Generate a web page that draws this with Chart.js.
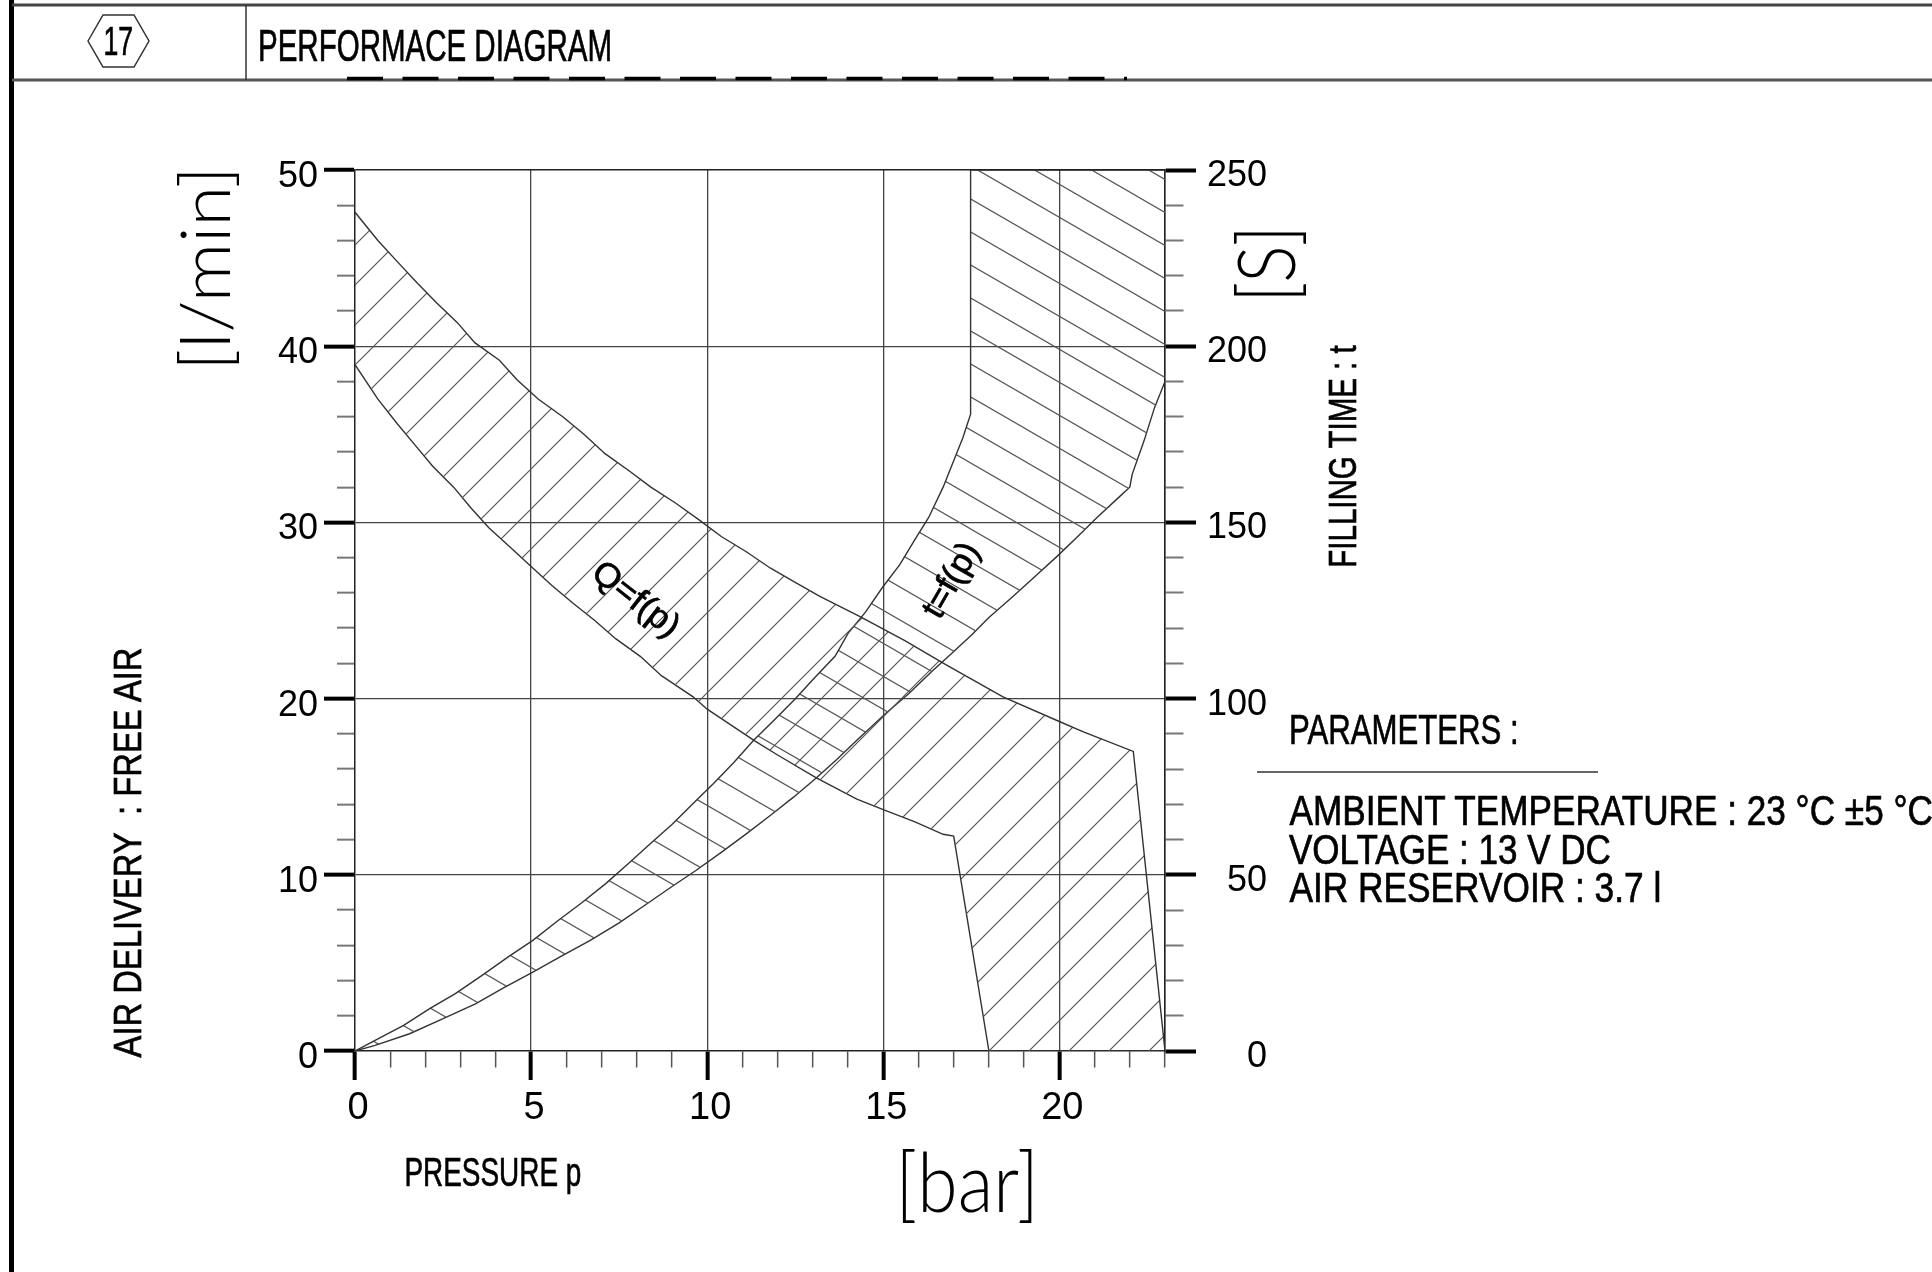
<!DOCTYPE html>
<html>
<head>
<meta charset="utf-8">
<title>Performace diagram</title>
<script src="https://cdn.jsdelivr.net/npm/chart.js@4/dist/chart.umd.min.js"></script>
<style>
html,body{margin:0;padding:0;background:#fff;}
#wrap{position:relative;width:1932px;height:1272px;overflow:hidden;background:#fff;}
#c{position:absolute;left:0;top:0;}
#frame{position:absolute;left:0;top:0;}
.t{position:absolute;white-space:pre;color:#000;line-height:1;transform-origin:50% 50%;}
.s{-webkit-text-stroke:0.7px #000;}
</style>
</head>
<body>
<div id="wrap">
<canvas id="c" width="1932" height="1272"></canvas>
<svg id="frame" width="1932" height="1272" xmlns="http://www.w3.org/2000/svg">
  <rect x="9" y="0" width="5" height="1272" fill="#000"/>
  <line x1="12" y1="5" x2="1932" y2="5" stroke="#444" stroke-width="3"/>
  <line x1="12" y1="80" x2="1932" y2="80" stroke="#555" stroke-width="3"/>
  <line x1="246" y1="5" x2="246" y2="80" stroke="#333" stroke-width="1.5"/>
  <polygon points="88,41 103,15 134,15 149,41 134,67 103,67" fill="none" stroke="#333" stroke-width="1.5"/>
  <line x1="347" y1="78.5" x2="1127" y2="78.5" stroke="#000" stroke-width="3.5" stroke-dasharray="36 19.5"/>
  <line x1="1257" y1="772" x2="1598" y2="772" stroke="#333" stroke-width="1.5"/>
</svg>
</div>
<script>
// ---------------- data ----------------
// Air delivery Q [l/min] vs pressure p [bar] : upper and lower limit of the band
const qUpperP = [0, 0.65, 1.2, 1.76, 2.3, 2.9, 3.4, 4.1, 4.6, 5.2, 5.9, 6.5, 7.1, 7.8, 8.4, 9.1, 9.8, 10.4, 11.1, 11.8, 12.5, 13.2, 14.3, 15.6, 16.8, 18.4, 20.0, 20.7, 22.1, 23];
const qUpperQ = [47.6, 46.0, 44.8, 43.6, 42.5, 41.35, 40.2, 39.2, 38.1, 37.0, 36.0, 35.0, 33.9, 32.9, 32.0, 31.1, 30.1, 29.2, 28.35, 27.4, 26.6, 25.8, 24.7, 23.3, 21.9, 20.1, 18.7, 18.1, 17.0, 0];
const qLowerP = [0, 0.65, 1.2, 1.7, 2.2, 2.8, 3.3, 3.8, 4.4, 5.0, 5.6, 6.2, 6.8, 7.4, 8.1, 8.7, 9.6, 10.0, 11.35, 12.0, 13.1, 14.25, 15.0, 15.9, 16.7, 17.0, 18.0, 23];
const qLowerQ = [38.95, 37.0, 35.6, 34.4, 33.2, 32.0, 30.8, 29.7, 28.6, 27.5, 26.4, 25.4, 24.45, 23.4, 22.4, 21.3, 20.1, 19.4, 17.6, 16.8, 15.5, 14.3, 13.7, 13.0, 12.3, 12.2, 0, 0];
// Filling time t [s] vs pressure p [bar] : upper and lower limit of the band
const tUpperP = [0, 0.57, 1.38, 2.12, 2.85, 3.66, 4.35, 5.05, 5.75, 6.43, 7.12, 7.74, 8.36, 9.0, 9.6, 10.18, 10.75, 11.32, 11.94, 12.49, 13.03, 13.63, 14.0, 14.5, 14.98, 15.47, 15.88, 16.29, 16.7, 17.0, 17.26, 17.48, 17.48, 23];
const tUpperT = [0, 3, 7.3, 12, 16.3, 21.8, 26.7, 31.4, 36.9, 42, 47.5, 53, 58.6, 64.3, 70.2, 75.9, 81.8, 88.2, 94.3, 99.8, 105.7, 112, 118.5, 124.6, 131.6, 138, 144.8, 151.4, 160, 167.5, 174, 180.7, 250, 250];
const tLowerP = [0, 0.57, 1.55, 2.44, 3.42, 4.23, 5.05, 5.86, 6.68, 7.49, 8.22, 8.96, 9.69, 10.42, 11.12, 11.8, 12.46, 13.08, 13.68, 14.25, 15.06, 15.72, 16.37, 16.94, 17.5, 18.0, 18.65, 19.3, 19.95, 20.5, 21.07, 21.74, 22.0, 22.07, 22.4, 22.7, 23];
const tLowerT = [0, 1.6, 4.9, 8.9, 13.4, 18, 22.4, 26.9, 31.4, 36.3, 41.3, 46.4, 51.3, 56.5, 61.7, 66.9, 72.1, 77.3, 82.7, 88.2, 95.7, 101.4, 107.6, 112.8, 118, 123, 128.7, 134.6, 140.5, 145.8, 151.4, 157.6, 160, 163.7, 173, 182.5, 190];
// tick labels
const xTickLabels  = ['0', '5', '10', '15', '20'];
const yTickLabels  = ['0', '10', '20', '30', '40', '50'];
const y2TickLabels = ['0', '50', '100', '150', '200', '250'];
// texts
const headerNumber = '17';
const titleText = 'PERFORMACE DIAGRAM';
const parameterLines = ['AMBIENT TEMPERATURE : 23 °C ±5 °C', 'VOLTAGE : 13 V DC', 'AIR RESERVOIR : 3.7 l'];

// ---------------- chart ----------------
const NARROW = "'Liberation Sans Narrow', 'Liberation Sans', Arial, sans-serif";
const SANS = "'Liberation Sans', Arial, sans-serif";
const LIGHT = "Lato, 'Open Sans', 'Liberation Sans', sans-serif";
const canvas = document.getElementById('c');
const ctx2d = canvas.getContext('2d');

function hatch(w, h, dir, color, lw) {
  const c = document.createElement('canvas');
  c.width = w; c.height = h;
  const g = c.getContext('2d');
  g.strokeStyle = color; g.lineWidth = lw;
  g.beginPath();
  for (const n of [-1, 0, 1]) {
    if (dir === '/') { g.moveTo(-w, 2 * h + n * h); g.lineTo(2 * w, -h + n * h); }
    else { g.moveTo(-w, -h + n * h); g.lineTo(2 * w, 2 * h + n * h); }
  }
  g.stroke();
  return ctx2d.createPattern(c, 'repeat');
}
const hatchQ = hatch(40, 40, '/', '#555', 1.2);
const hatchT = hatch(57, 33, '\\', '#555', 1.2);

const toPts = (xs, ys) => xs.map((x, i) => ({x: x, y: ys[i]}));
const tv = c => (c && c.tick) ? c.tick.value : null;

new Chart(canvas, {
  type: 'line',
  data: {
    datasets: [
      {label: 'Q upper', data: toPts(qUpperP, qUpperQ), yAxisID: 'y', borderColor: '#333', borderWidth: 1.4, fill: '+1', backgroundColor: hatchQ, pointRadius: 0, tension: 0},
      {label: 'Q lower', data: toPts(qLowerP, qLowerQ), yAxisID: 'y', borderColor: '#333', borderWidth: 1.4, fill: false, pointRadius: 0, tension: 0},
      {label: 't upper', data: toPts(tUpperP, tUpperT), yAxisID: 'y2', borderColor: '#333', borderWidth: 1.4, fill: '+1', backgroundColor: hatchT, pointRadius: 0, tension: 0},
      {label: 't lower', data: toPts(tLowerP, tLowerT), yAxisID: 'y2', borderColor: '#333', borderWidth: 1.4, fill: false, pointRadius: 0, tension: 0}
    ]
  },
  options: {
    responsive: false,
    animation: false,
    devicePixelRatio: 1,
    layout: {padding: {top: 170, left: 0, right: 665, bottom: 0}},
    plugins: {legend: {display: false}, tooltip: {enabled: false}, title: {display: false}},
    scales: {
      x: {
        type: 'linear', position: 'bottom', min: 0, max: 23,
        afterFit: s => { s.height = 221; },
        border: {display: true, color: '#222', width: 1.5},
        grid: {
          color: c => { const v = tv(c); return v === 23 ? '#222' : ([5, 10, 15, 20].includes(v) ? '#444' : 'rgba(0,0,0,0)'); },
          lineWidth: 1.3,
          drawTicks: true, tickLength: 29,
          tickColor: c => (tv(c) % 5 === 0 ? '#000' : '#555'),
          tickWidth: c => (tv(c) % 5 === 0 ? 4 : 1.5),
          tickBorderDash: c => (tv(c) % 5 === 0 ? [] : [16, 1000]),
          tickBorderDashOffset: 0
        },
        ticks: {
          stepSize: 1, autoSkip: false, maxRotation: 0, minRotation: 0, padding: 10, labelOffset: 3, color: '#000',
          font: {family: NARROW, size: 38, lineHeight: 1},
          callback: v => (xTickLabels.includes(String(v)) ? String(v) : '')
        }
      },
      y: {
        type: 'linear', position: 'left', min: 0, max: 50,
        afterFit: s => { s.width = 355; },
        border: {display: true, color: '#222', width: 1.5},
        grid: {
          color: c => { const v = tv(c); return v === 50 ? '#222' : ([10, 20, 30, 40].includes(v) ? '#444' : 'rgba(0,0,0,0)'); },
          lineWidth: c => (tv(c) === 50 ? 1.5 : 1.3),
          drawTicks: true, tickLength: 31,
          tickColor: c => (tv(c) % 10 === 0 ? '#000' : '#777'),
          tickWidth: c => (tv(c) % 10 === 0 ? 4 : 2),
          tickBorderDash: c => (tv(c) % 10 === 0 ? [] : [18, 1000]),
          tickBorderDashOffset: c => (tv(c) % 10 === 0 ? 0 : -13)
        },
        ticks: {
          stepSize: 2, autoSkip: false, padding: 6, labelOffset: 7, color: '#000',
          font: {family: NARROW, size: 36, lineHeight: 1},
          callback: v => (yTickLabels.includes(String(v)) ? String(v) : '')
        }
      },
      y2: {
        type: 'linear', position: 'right', min: 0, max: 250,
        afterFit: s => { s.width = 102; },
        border: {display: true, color: '#222', width: 1.5},
        grid: {
          drawOnChartArea: false,
          drawTicks: true, tickLength: 31,
          tickColor: c => (tv(c) % 50 === 0 ? '#000' : '#777'),
          tickWidth: c => (tv(c) % 50 === 0 ? 4 : 2),
          tickBorderDash: c => (tv(c) % 50 === 0 ? [] : [18, 1000]),
          tickBorderDashOffset: 0
        },
        ticks: {
          stepSize: 10, autoSkip: false, padding: 14, labelOffset: 6, crossAlign: 'far', color: '#000',
          font: {family: SANS, size: 36, lineHeight: 1},
          callback: v => (y2TickLabels.includes(String(v)) ? String(v) : '')
        }
      }
    }
  }
});

// ---------------- texts ----------------
const wrap = document.getElementById('wrap');
function placeText(txt, o) {
  const el = document.createElement('div');
  el.className = 't' + (o.stroke ? ' s' : '');
  el.textContent = txt;
  el.style.font = (o.weight || 400) + ' ' + o.size + 'px ' + (o.family || SANS);
  wrap.appendChild(el);
  const w = el.offsetWidth, h = el.offsetHeight;
  const sx = o.width ? o.width / w : 1;
  el.style.left = (o.cx - w / 2) + 'px';
  el.style.top = (o.cy - h / 2) + 'px';
  el.style.transform = 'rotate(' + (o.rot || 0) + 'deg) scale(' + sx + ',1)';
}
function placeAll() {
  placeText(headerNumber, {cx: 118, cy: 41, width: 30, size: 40, stroke: true});
  placeText(titleText, {cx: 435, cy: 45.5, width: 354, size: 44, stroke: true});
  placeText('AIR DELIVERY  : FREE AIR', {cx: 129, cy: 852, width: 410, size: 38, rot: -90, stroke: true});
  placeText('[l/min]', {cx: 203, cy: 268, width: 204, size: 68, rot: -90, weight: 300, family: LIGHT});
  placeText('[S]', {cx: 1264, cy: 264, width: 77, size: 80, rot: -90, weight: 300, family: LIGHT});
  placeText('FILLING TIME : t', {cx: 1343, cy: 456, width: 222, size: 38, rot: -90, stroke: true});
  placeText('[bar]', {cx: 967, cy: 1180, width: 143, size: 82, weight: 300, family: LIGHT});
  placeText('PRESSURE p', {cx: 492.5, cy: 1172.5, width: 177, size: 41, stroke: true});
  placeText('PARAMETERS :', {cx: 1404, cy: 730, width: 230, size: 42, stroke: true});
  const widths = [643, 322, 372];
  const cys = [811, 849.5, 888];
  parameterLines.forEach((s, i) => placeText(s, {cx: 1289 + widths[i] / 2, cy: cys[i], width: widths[i], size: 42, stroke: true}));
  placeText('Q=f(p)', {cx: 636, cy: 598, width: 101, size: 34, rot: 38, stroke: true});
  placeText('t=f(p)', {cx: 950, cy: 579, width: 81, size: 34, rot: -60, stroke: true});
}
placeAll();
</script>
</body>
</html>
